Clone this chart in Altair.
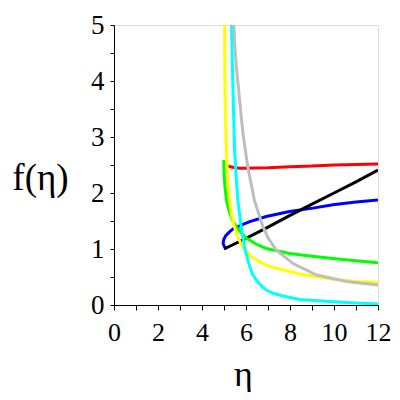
import altair as alt
import pandas as pd

# Curves
red_x = [5.18, 5.3, 5.5, 5.7, 5.9, 7.0, 8.0, 9.0, 10.0, 11.0, 12.0]
red_y = [2.48, 2.47, 2.45, 2.44, 2.44, 2.45, 2.47, 2.48, 2.50, 2.51, 2.52]

blue_x = [5.12, 5.02, 4.96, 4.99, 5.08, 5.26, 5.42, 5.86, 6.17, 6.92, 7.98, 9.04, 9.95, 11.0, 12.0]
blue_y = [1.00, 1.04, 1.10, 1.17, 1.24, 1.31, 1.36, 1.44, 1.49, 1.58, 1.67, 1.73, 1.79, 1.84, 1.875]

black_x = [5.0, 6.0, 7.0, 8.0, 9.0, 10.0, 11.0, 12.0]
black_y = [1.0, 1.19, 1.39, 1.60, 1.80, 2.00, 2.20, 2.41]

green_x = [4.99, 5.0, 5.03, 5.11, 5.26, 5.4, 5.56, 5.8, 6.02, 6.5, 6.92, 7.98, 9.0, 9.95, 11.0, 12.0]
green_y = [2.59, 2.40, 2.17, 1.87, 1.64, 1.50, 1.40, 1.28, 1.19, 1.08, 1.01, 0.92, 0.87, 0.83, 0.79, 0.755]

yellow_x = [5.03, 5.04, 5.06, 5.09, 5.12, 5.18, 5.26, 5.33, 5.45, 5.56, 5.7, 5.86, 6.17, 6.62, 7.0, 7.38, 8.44, 9.95, 11.0, 12.0]
yellow_y = [5.3, 4.0, 3.5, 3.0, 2.6, 2.17, 1.85, 1.64, 1.43, 1.28, 1.15, 1.04, 0.89, 0.77, 0.70, 0.655, 0.553, 0.458, 0.42, 0.40]

cyan_x = [5.33, 5.37, 5.42, 5.48, 5.55, 5.63, 5.78, 5.93, 6.05, 6.17, 6.3, 6.47, 6.7, 6.92, 7.3, 7.68, 8.44, 9.95, 11.0, 12.0]
cyan_y = [5.3, 4.5, 3.66, 2.77, 2.3, 1.87, 1.40, 1.04, 0.85, 0.685, 0.55, 0.446, 0.34, 0.268, 0.20, 0.16, 0.10, 0.06, 0.035, 0.02]

gray_x = [5.42, 5.48, 5.56, 5.71, 5.86, 6.08, 6.38, 6.77, 7.0, 7.38, 8.14, 9.19, 10.56, 12.0]
gray_y = [5.3, 4.7, 4.26, 3.66, 3.07, 2.47, 1.87, 1.40, 1.20, 0.98, 0.74, 0.54, 0.42, 0.357]

series = [
    ("red", red_x, red_y, "#FF0000"),
    ("blue", blue_x, blue_y, "#0000FF"),
    ("black", black_x, black_y, "#000000"),
    ("green", green_x, green_y, "#00FF00"),
    ("yellow", yellow_x, yellow_y, "#FFFF00"),
    ("cyan", cyan_x, cyan_y, "#00FFFF"),
    ("gray", gray_x, gray_y, "#BEBEBE"),
]

rows = []
for name, xs, ys, _ in series:
    for i, (x, y) in enumerate(zip(xs, ys)):
        rows.append({"name": name, "x": x, "y": y, "i": i})
df = pd.DataFrame(rows)

names = [s[0] for s in series]
colors = [s[3] for s in series]

x_ticks = list(range(0, 13))
y_ticks = [i * 0.5 for i in range(0, 11)]

font = "'Liberation Serif', 'Times New Roman', serif"

chart = alt.Chart(df).mark_line(strokeWidth=3, clip=True).encode(
    x=alt.X("x:Q", scale=alt.Scale(domain=[0, 12], nice=False, zero=False),
            axis=alt.Axis(title="η", values=x_ticks, grid=False,
                          labelExpr="datum.value % 2 == 0 ? format(datum.value, 'd') : ''",
                          labelFontSize=26, labelPadding=9, tickSize=5,
                          titleFontSize=36, titleBaseline="alphabetic", titleY=80, titleX=129)),
    y=alt.Y("y:Q", scale=alt.Scale(domain=[0, 5], nice=False),
            axis=alt.Axis(title="f(η)", values=y_ticks, grid=False,
                          labelExpr="datum.value % 1 == 0 ? format(datum.value, 'd') : ''",
                          labelFontSize=27, labelPadding=6, tickSize=4,
                          titleFontSize=37, titleAngle=0, titleAlign="center",
                          titleBaseline="middle", titleX=-74, titleY=153)),
    color=alt.Color("name:N", scale=alt.Scale(domain=names, range=colors), legend=None),
    order="i:Q",
    detail="name:N",
).properties(
    width=264, height=280,
    autosize=alt.AutoSizeParams(type="none"),
    padding={"left": 106, "top": 17, "right": 14, "bottom": 87},
).configure_view(stroke=None).configure(
    background="white", font=font
).configure_axis(
    labelFont=font, titleFont=font, labelColor="black", titleColor="black",
    tickColor="black", domainColor="black", titleFontWeight="normal",
    labelFlush=False, labelOverlap=False,
)

chart.save("out.html", embed_options={"renderer": "svg", "actions": False})
